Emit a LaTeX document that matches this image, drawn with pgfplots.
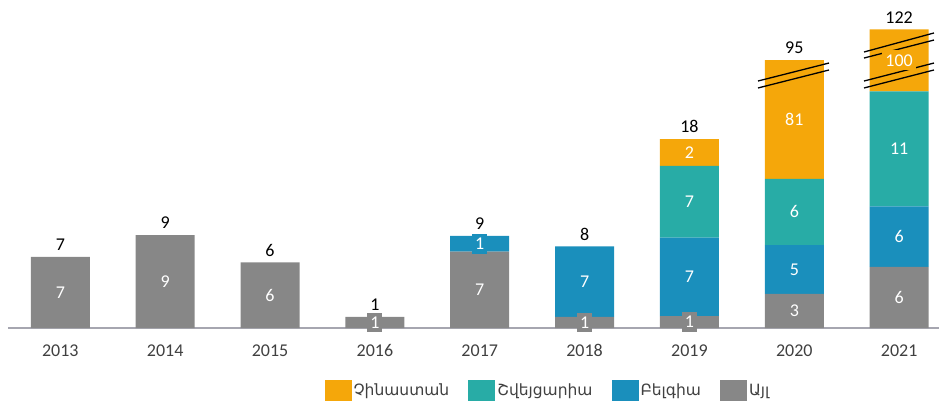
\documentclass[border=0pt]{standalone}
\usepackage{fontspec}
\setmainfont{Carlito}
\newfontfamily\armfont{DejaVu Sans}
\usepackage{pgfplots}
\usepackage{pgfplotstable}
\pgfplotsset{compat=1.18}

\definecolor{cOrange}{HTML}{F5A70A}
\definecolor{cTeal}{HTML}{28ACA6}
\definecolor{cBlue}{HTML}{1A8FBC}
\definecolor{cGray}{HTML}{878787}
\definecolor{cAxis}{HTML}{A6A6B0}
\definecolor{cText}{HTML}{404040}

% displayed segment heights (2020/2021 orange shown broken)
\pgfplotstableread{
x gray blue teal orange
0 6.83 0    0     0
1 8.94 0    0     0
2 6.30 0    0     0
3 1.06 0    0     0
4 7.34 1.51 0     0
5 1.06 6.79 0     0
6 1.15 7.53 6.92  2.57
7 3.27 4.71 6.35  11.44
8 5.87 5.83 11.06 5.96
}\bars

% in-bar labels: segment centre, shown value
\pgfplotstableread{
x y lab
0 3.41 7
1 4.47 9
2 3.15 6
3 0.53 1
4 3.67 7
5 0.53 1
6 0.58 1
7 1.63 3
8 2.93 6
}\labgray
\pgfplotstableread{
x y lab
4 8.10 1
5 4.46 7
6 4.92 7
7 5.63 5
8 8.79 6
}\labblue
\pgfplotstableread{
x y lab
6 12.14 7
7 11.16 6
8 17.23 11
}\labteal
\pgfplotstableread{
x y lab
6 16.89 2
7 20.05 81
8 25.74 100
}\laborange
\pgfplotstableread{
x y lab
0 6.83 7
1 8.94 9
2 6.30 6
3 1.06 1
4 8.85 9
5 7.85 8
6 18.17 18
7 25.77 95
8 28.72 122
}\totals

\pgfplotsset{
  base/.style={
    width=931pt, height=328pt, scale only axis,
    xmin=-0.499, xmax=8.38, ymin=0, ymax=31.54,
  },
  inlab/.style={
    only marks, mark=none, nodes near coords, point meta=explicit symbolic,
    nodes near coords style={anchor=center, text=white, fill=#1,
      inner xsep=3pt, inner ysep=4pt, font=\fontsize{18}{20}\selectfont},
  },
}

\begin{document}
\begin{tikzpicture}
\useasboundingbox (-8pt,-72pt) rectangle (931pt,328pt);
\begin{axis}[
  base,
  ybar stacked, bar width=59pt,
  axis x line*=bottom, axis y line=none,
  axis line style={-, draw=cAxis, line width=1.2pt},
  xtick={0,...,8},
  xticklabels={2013,2014,2015,2016,2017,2018,2019,2020,2021},
  major tick length=0pt,
  xticklabel style={font=\fontsize{18}{20}\selectfont, text=cText, yshift=-13pt},
  ytick=\empty,
  legend image code/.code={\draw[#1, draw=none] (0pt,-10.5pt) rectangle (27pt,10.5pt);},
  reverse legend,
  legend style={at={(0.580,-0.191)}, anchor=center, draw=none, fill=none,
    legend columns=4, text=cText,
    font=\armfont\fontsize{15.5}{18}\selectfont,
    /tikz/every odd column/.append style={column sep=0pt},
    /tikz/every even column/.append style={column sep=17pt}},
]
\addplot[fill=cGray, draw=none] table[x=x, y=gray] {\bars};
\addlegendentry{Այլ}
\addplot[fill=cBlue, draw=none] table[x=x, y=blue] {\bars};
\addlegendentry{Բելգիա}
\addplot[fill=cTeal, draw=none] table[x=x, y=teal] {\bars};
\addlegendentry{Շվեյցարիա}
\addplot[fill=cOrange, draw=none] table[x=x, y=orange] {\bars};
\addlegendentry{Չինաստան}
\end{axis}

\begin{axis}[base, hide axis, clip=false]
\addplot[inlab=cGray] table[x=x, y=y, meta=lab] {\labgray};
\addplot[inlab=cBlue] table[x=x, y=y, meta=lab] {\labblue};
\addplot[inlab=cTeal] table[x=x, y=y, meta=lab] {\labteal};
\addplot[inlab=cOrange] table[x=x, y=y, meta=lab] {\laborange};
\addplot[only marks, mark=none, nodes near coords, point meta=explicit symbolic,
  nodes near coords style={anchor=south, text=black, inner sep=2pt, yshift=4pt,
    font=\fontsize{18}{20}\selectfont}]
  table[x=x, y=y, meta=lab] {\totals};
% axis break marks
\addplot[black, line width=1.3pt] coordinates {(6.654,23.75) (7.331,25.48)};
\addplot[black, line width=1.3pt] coordinates {(6.654,23.08) (7.331,24.81)};
\addplot[black, line width=1.3pt] coordinates {(7.665,26.54) (8.332,28.37)};
\addplot[black, line width=1.3pt] coordinates {(7.665,25.96) (8.332,27.69)};
\addplot[black, line width=1.3pt] coordinates {(7.665,23.75) (8.332,25.48)};
\addplot[black, line width=1.3pt] coordinates {(7.665,23.08) (8.332,24.81)};
\end{axis}
\end{tikzpicture}
\end{document}
